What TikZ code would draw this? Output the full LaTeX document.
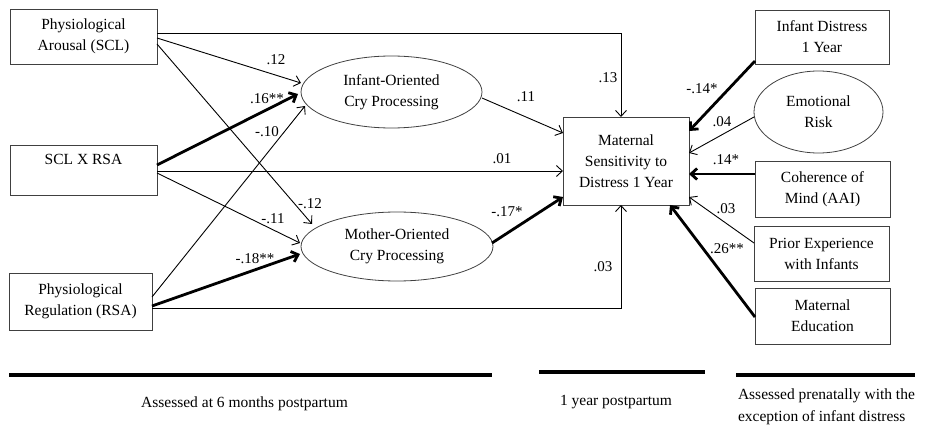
\documentclass[tikz,border=0pt]{standalone}
\usepackage{fontspec}
\setmainfont{Liberation Serif}
\usetikzlibrary{arrows.meta,shapes.geometric}
\begin{document}
\begin{tikzpicture}[x=1pt,y=-1pt,
  every node/.style={inner sep=0pt, outer sep=0pt},
  box/.style={draw=black!75, line width=0.8pt, rectangle, align=center, font=\fontsize{15.5}{21}\selectfont},
  oval/.style={draw=black!75, line width=0.8pt, ellipse, align=center, font=\fontsize{15.5}{21}\selectfont},
  thinarr/.style={line width=0.9pt, -{Straight Barb[length=6pt,width=11pt]}},
  thickarr/.style={line width=2.8pt, -{Straight Barb[length=6pt,width=11pt]}},
  coef/.style={anchor=base, font=\fontsize{15}{18}\selectfont},
  period/.style={line width=4pt},
  note/.style={font=\fontsize{15.5}{22}\selectfont}]
\useasboundingbox (0,0) rectangle (927,433);

% left boxes
\node[box, minimum width=147pt, minimum height=55pt] (PA) at (83.5,36.5) {Physiological\\Arousal (SCL)};
\node[box, minimum width=147pt, minimum height=50pt] (SXR) at (83.5,170) {SCL X RSA\\~};
\node[box, minimum width=143pt, minimum height=57pt] (PR) at (80.5,301.5) {Physiological\\Regulation (RSA)};

% mediators
\node[oval, minimum width=181pt, minimum height=72pt] (IO) at (391.5,92) {Infant-Oriented\\Cry Processing};
\node[oval, minimum width=192pt, minimum height=69pt] (MO) at (397,246.5) {Mother-Oriented\\Cry Processing};

% outcome
\node[box, minimum width=126pt, minimum height=88pt] (MS) at (626,161) {Maternal\\Sensitivity to\\Distress 1 Year};

% right covariates
\node[box, minimum width=134pt, minimum height=54pt] (ID) at (822,37) {Infant Distress\\1 Year};
\node[oval, minimum width=129pt, minimum height=82pt] (ER) at (818.5,112) {Emotional\\Risk};
\node[box, minimum width=135pt, minimum height=56pt] (CM) at (822.5,189) {Coherence of\\Mind (AAI)};
\node[box, minimum width=135pt, minimum height=55pt] (PE) at (821.5,253.5) {Prior Experience\\with Infants};
\node[box, minimum width=135pt, minimum height=56pt] (ME) at (822.5,316) {Maternal\\Education};

% connectors
\draw[thinarr] ([yshift=3.5pt]PA.east) -| ([xshift=-5pt]MS.north);
\draw[thinarr] ([yshift=-1.5pt]PA.east) -- ([yshift=9pt]IO.west);
\draw[thinarr] ([yshift=-7.5pt]PA.east) -- ([xshift=11pt,yshift=22.5pt]MO.west);
\draw[thickarr] ([yshift=5pt]SXR.east) -- ([xshift=-3pt,yshift=-2pt]IO.west);
\draw[thinarr] ([yshift=-1pt]SXR.east) -- ([yshift=-10pt]MS.west);
\draw[thinarr] ([yshift=-3pt]SXR.east) -- ([xshift=-1pt,yshift=3.5pt]MO.west);
\draw[thinarr] ([yshift=4.5pt]PR.east) -- ([xshift=4pt,yshift=-14pt]IO.west);
\draw[thickarr] ([yshift=-4.5pt]PR.east) -- ([xshift=-1pt,yshift=-7.5pt]MO.west);
\draw[thinarr] ([yshift=-6.5pt]PR.east) -| ([xshift=-5pt]MS.south);
\draw[thinarr] ([yshift=-6pt]IO.east) -- ([yshift=28pt]MS.west);
\draw[thickarr] ([xshift=-1pt,yshift=3.5pt]MO.east) -- ([yshift=-36pt]MS.west);
\draw[thickarr] ([yshift=-24pt]ID.west) -- ([yshift=30pt]MS.east);
\draw[thinarr] ([yshift=-5pt]ER.west) -- ([yshift=8pt]MS.east);
\draw[thickarr] ([yshift=15pt]CM.west) -- ([yshift=-13pt]MS.east);
\draw[thinarr] ([yshift=10.5pt]PE.west) -- ([yshift=-36pt]MS.east);
\draw[thickarr] ([yshift=-1pt]ME.west) -- ([xshift=44pt]MS.south);

% coefficients
\node[coef] (c13) at (608,83) {.13};
\node[coef] (c12) at (276,65) {.12};
\node[coef] (c16) at (267,104) {.16**};
\node[coef] (c10) at (267,137) {-.10};
\node[coef] (cm12) at (310,208) {-.12};
\node[coef] (c11b) at (273,223) {-.11};
\node[coef] (c18) at (255,263) {-.18**};
\node[coef] (c01) at (502,164) {.01};
\node[coef] (c11) at (526,102) {.11};
\node[coef] (c17) at (507,216) {-.17*};
\node[coef] (c03a) at (603,271) {.03};
\node[coef] (c14a) at (702,94) {-.14*};
\node[coef] (c04) at (722,127) {.04};
\node[coef] (c14b) at (726,165) {.14*};
\node[coef] (c03b) at (726,213) {.03};
\node[coef] (c26) at (727,253) {.26**};

% time periods
\draw[period] (9,375) -- (492,375);
\draw[period] (539,372) -- (705,372);
\draw[period] (736,375) -- (915,375);
\node[note, anchor=base] (t1) at (244.5,407) {Assessed at 6 months postpartum};
\node[note, anchor=base] (t2) at (616,405) {1 year postpartum};
\node[note, anchor=base west, align=left] (t3) at (738,421) {Assessed prenatally with the\\exception of infant distress};
\end{tikzpicture}
\end{document}
